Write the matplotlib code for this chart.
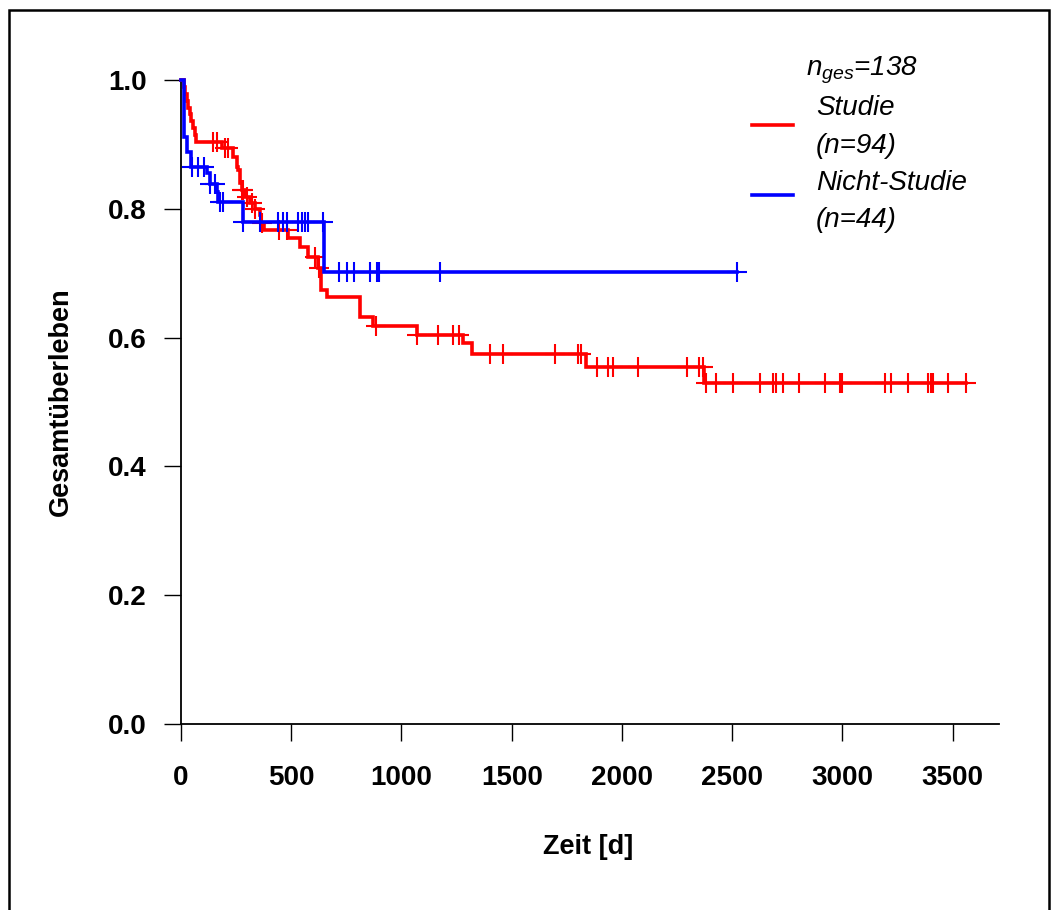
import numpy as np
import matplotlib
matplotlib.use('Agg')
from matplotlib import pyplot as plt
from matplotlib.lines import Line2D
from matplotlib.patches import Rectangle

plt.rcParams['font.family'] = ['Liberation Sans', 'DejaVu Sans']
plt.rcParams['mathtext.fontset'] = 'custom'
plt.rcParams['mathtext.it'] = 'Liberation Sans:italic'
plt.rcParams['mathtext.rm'] = 'Liberation Sans:italic'

# Kaplan-Meier step points (days, survival) and censoring times
studie_t = [0, 15, 20, 27, 33, 40, 47, 55, 63, 70, 185, 236, 253, 258, 268, 275, 290,
            313, 336, 358, 365, 375, 485, 540, 577, 621, 635, 660, 812, 871, 1069,
            1280, 1320, 1837, 2372]
studie_s = [1.0, 0.989, 0.979, 0.968, 0.957, 0.947, 0.936, 0.926, 0.915, 0.904, 0.895,
            0.880, 0.865, 0.860, 0.840, 0.829, 0.818, 0.809, 0.800, 0.790, 0.778, 0.767,
            0.755, 0.741, 0.725, 0.708, 0.674, 0.663, 0.632, 0.618, 0.604, 0.591, 0.574,
            0.554, 0.530]
studie_cens = [143, 162, 200, 211, 275, 283, 298, 321, 336, 366, 444, 479, 608, 627,
               884, 1069, 1167, 1235, 1262, 1401, 1462, 1696, 1802, 1813, 1888, 1938,
               1961, 2074, 2293, 2351, 2366, 2381, 2425, 2504, 2626, 2683, 2698, 2732,
               2804, 2921, 2989, 2999, 3193, 3219, 3298, 3389, 3400, 3409, 3480, 3560]

nicht_t = [0, 14, 26, 44, 117, 132, 162, 169, 280, 649]
nicht_s = [1.0, 0.911, 0.888, 0.865, 0.855, 0.839, 0.826, 0.811, 0.780, 0.702]
nicht_cens = [49, 78, 106, 132, 154, 177, 192, 283, 358, 441, 464, 479, 532, 547, 562,
              577, 643, 717, 754, 785, 855, 890, 899, 1175, 2520]

x_ticks = [0, 500, 1000, 1500, 2000, 2500, 3000, 3500]
y_ticks = [0.0, 0.2, 0.4, 0.6, 0.8, 1.0]

fig = plt.figure(figsize=(10.58, 9.10), dpi=100)
ax = fig.add_axes([181/1058, 1 - 724/910, (999 - 181)/1058, (724 - 80)/910])


def km_curve(t, s, cens, color):
    t = np.array(t, dtype=float)
    s = np.array(s, dtype=float)
    end = max(t[-1], max(cens))
    ax.step(np.append(t, end), np.append(s, s[-1]), where='post',
            color=color, lw=2.6, solid_joinstyle='miter', clip_on=False, zorder=3)
    idx = np.searchsorted(t, cens, side='right') - 1
    ax.plot(cens, s[idx], linestyle='none', marker='+', ms=14.5, mew=1.5,
            color=color, clip_on=False, zorder=3)


km_curve(studie_t, studie_s, studie_cens, '#ff0000')
km_curve(nicht_t, nicht_s, nicht_cens, '#0000ff')

ax.set_xlim(0, 3710)
ax.set_ylim(0, 1.0)
for side in ['top', 'right']:
    ax.spines[side].set_visible(False)
for side in ['left', 'bottom']:
    ax.spines[side].set_linewidth(1.3)
ax.set_xticks(x_ticks)
ax.set_yticks(y_ticks)
ax.set_yticklabels(['%.1f' % v for v in y_ticks])
ax.tick_params(direction='out', length=12.5, width=1.0, labelsize=20)
ax.tick_params(axis='x', pad=17)
ax.tick_params(axis='y', pad=12)
for lab in ax.get_xticklabels() + ax.get_yticklabels():
    lab.set_fontweight('bold')

fig.text(588/1058, 1 - 847/910, 'Zeit [d]', ha='center', va='center',
         fontsize=19.5, fontweight='bold')
fig.text(61/1058, 1 - 402/910, 'Gesamtüberleben', ha='center', va='center',
         rotation=90, fontsize=19.5, fontweight='bold')

# legend drawn by hand
fig.add_artist(Line2D([752/1058, 793/1058], [1 - 125/910] * 2, color='#ff0000', lw=2.6))
fig.add_artist(Line2D([752/1058, 793/1058], [1 - 195/910] * 2, color='#0000ff', lw=2.6))
fig.text(806/1058, 1 - 70/910, r'$n_{ges}$=138', ha='left', va='center',
         fontsize=20, style='italic')
for label, ypx in [('Studie', 108), ('(n=94)', 146), ('Nicht-Studie', 183), ('(n=44)', 220)]:
    fig.text(816/1058, 1 - ypx/910, label, ha='left', va='center',
             fontsize=20, style='italic')

# outer frame
fig.add_artist(Rectangle((9/1058, -0.01), (1049 - 9)/1058, 1.01 - 10/910,
                         fill=False, lw=1.8, ec='black', transform=fig.transFigure))

fig.savefig('out.png', dpi=100)
